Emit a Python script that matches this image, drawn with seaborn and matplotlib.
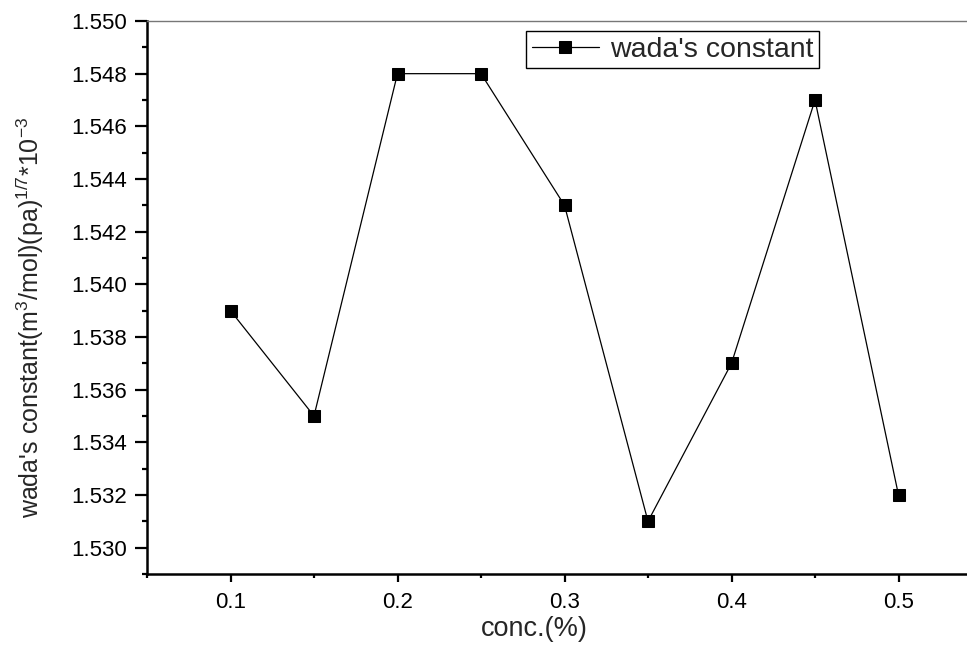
import matplotlib
matplotlib.use("Agg")
import matplotlib.pyplot as plt
import seaborn as sns
import pandas as pd
from matplotlib.ticker import MultipleLocator, FormatStrFormatter

conc = [0.10, 0.15, 0.20, 0.25, 0.30, 0.35, 0.40, 0.45, 0.50]
wada = [1.539, 1.535, 1.548, 1.548, 1.543, 1.531, 1.537, 1.547, 1.532]
series_name = "wada's constant"

df = pd.DataFrame({"conc": conc, "wada": wada})

sns.set_style("ticks")
plt.rcParams['font.family'] = ['Liberation Sans', 'DejaVu Sans']
plt.rcParams['mathtext.fontset'] = 'custom'
plt.rcParams['mathtext.rm'] = 'Liberation Sans'
plt.rcParams['mathtext.it'] = 'Liberation Sans'

fig = plt.figure(figsize=(9.67, 6.55), dpi=100)
W, H = 967, 655
ax = fig.add_axes([147/W, 81/H, 835/W, 553/H])

sns.lineplot(data=df, x="conc", y="wada", ax=ax, color="black", lw=0.9,
             marker="s", markersize=8, markeredgecolor="black",
             label=series_name)

ax.set_xlim(0.05, 0.55)
ax.set_ylim(1.529, 1.550)
ax.xaxis.set_major_locator(MultipleLocator(0.1))
ax.xaxis.set_minor_locator(MultipleLocator(0.05))
ax.yaxis.set_major_locator(MultipleLocator(0.002))
ax.yaxis.set_minor_locator(MultipleLocator(0.001))
ax.xaxis.set_major_formatter(FormatStrFormatter('%.1f'))
ax.yaxis.set_major_formatter(FormatStrFormatter('%.3f'))

ax.tick_params(axis='both', which='both', direction='out', width=1.6,
               labelsize=16, colors='black')
ax.tick_params(axis='x', which='major', length=6, pad=7)
ax.tick_params(axis='x', which='minor', length=3)
ax.tick_params(axis='y', which='major', length=8.5, pad=6)
ax.tick_params(axis='y', which='minor', length=3.5)

for s in ['left', 'bottom']:
    ax.spines[s].set_linewidth(1.8)
    ax.spines[s].set_color('black')
ax.spines['top'].set_visible(True)
ax.spines['top'].set_color('#777777')
ax.spines['top'].set_linewidth(1.0)
ax.spines['right'].set_visible(False)

ax.set_xlabel("conc.(%)", fontsize=19.5)
ax.set_ylabel(r"wada's constant(m$^3$/mol)(pa)$^{1/7}$*10$^{-3}$", fontsize=18)
ax.xaxis.set_label_coords((534 - 147) / 835, (H - 616 - 81) / 553)
ax.yaxis.set_label_coords((46 - 147) / 835, (H - 317 - 81) / 553)

leg = ax.legend(loc='upper left', bbox_to_anchor=((526 - 147) / 835, (H - 31 - 81) / 553),
                fontsize=20.5, frameon=True, fancybox=False, edgecolor='black', framealpha=1,
                handlelength=2.35, handletextpad=0.4, borderpad=0.2, borderaxespad=0)
leg.get_frame().set_linewidth(1.0)

fig.savefig("out.png", dpi=100)
